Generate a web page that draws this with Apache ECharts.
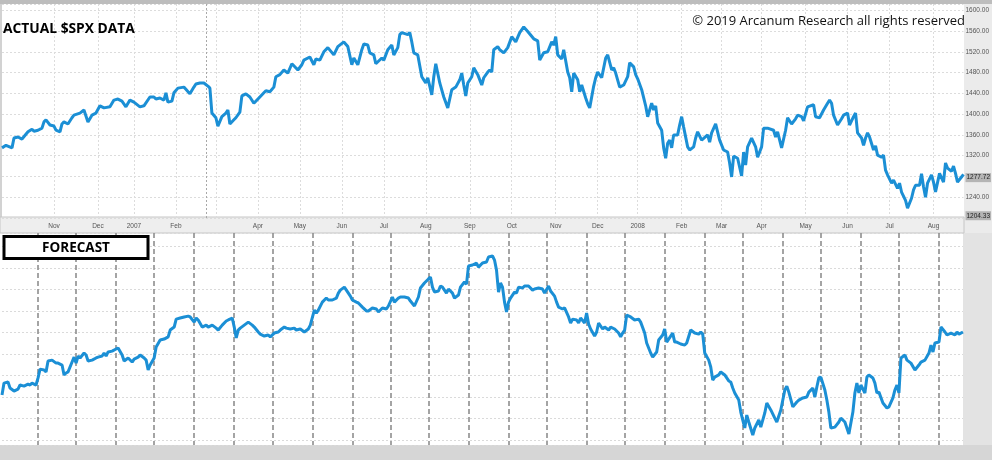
<!DOCTYPE html>
<html><head><meta charset="utf-8">
<script src="https://cdn.jsdelivr.net/npm/echarts@6.0.0/dist/echarts.min.js"></script>
<style>html,body{margin:0;padding:0;background:#d2d2d2}#c{width:992px;height:460px}</style>
</head><body><div id="c"></div>
<script>
// ---- DATA ----
// Actual $SPX: [trading-day index, close]
const actualSpx = [[0,1335],[2,1340],[5,1335],[6,1354],[8,1356],[10,1352],[11,1354],[13,1366],[15,1371],[16,1367],[18,1369],[20,1373],[21,1385],[22,1389],[24,1379],[26,1377],[27,1369],[29,1366],[30,1381],[31,1385],[33,1381],[35,1393],[36,1398],[39,1402],[41,1408],[43,1385],[45,1398],[47,1402],[49,1416],[51,1412],[52,1414],[54,1414],[56,1427],[58,1429],[60,1425],[62,1414],[64,1427],[66,1423],[67,1421],[69,1414],[71,1416],[74,1433],[76,1433],[77,1429],[79,1431],[81,1427],[82,1441],[83,1423],[85,1425],[86,1441],[88,1450],[91,1452],[92,1448],[94,1439],[96,1452],[97,1458],[99,1460],[101,1460],[103,1454],[104,1450],[105,1402],[106,1404],[107,1393],[108,1377],[110,1395],[112,1402],[113,1408],[114,1381],[116,1389],[117,1393],[119,1404],[120,1435],[122,1439],[124,1433],[126,1421],[127,1421],[129,1433],[131,1441],[132,1445],[134,1443],[136,1452],[137,1472],[139,1476],[141,1485],[143,1479],[145,1497],[146,1493],[148,1485],[150,1495],[151,1504],[154,1510],[156,1495],[157,1506],[159,1504],[161,1520],[163,1528],[166,1514],[168,1530],[171,1539],[173,1530],[175,1495],[176,1508],[178,1495],[180,1524],[181,1535],[183,1533],[184,1518],[186,1514],[187,1497],[190,1508],[191,1504],[193,1524],[195,1533],[196,1514],[198,1528],[199,1553],[200,1557],[203,1553],[204,1557],[205,1539],[206,1518],[208,1514],[210,1472],[211,1466],[212,1460],[213,1470],[215,1437],[216,1472],[217,1497],[219,1460],[221,1433],[223,1412],[224,1414],[225,1447],[227,1452],[229,1466],[230,1479],[231,1456],[232,1435],[233,1460],[235,1472],[236,1489],[238,1476],[240,1456],[241,1470],[243,1481],[244,1485],[245,1481],[246,1524],[248,1530],[249,1524],[251,1518],[253,1528],[254,1530],[255,1549],[257,1539],[259,1557],[261,1568],[263,1559],[264,1561],[266,1545],[268,1541],[269,1504],[271,1518],[273,1520],[275,1539],[276,1533],[277,1549],[278,1514],[280,1506],[281,1524],[283,1481],[284,1470],[285,1443],[286,1479],[288,1466],[289,1443],[290,1456],[292,1431],[293,1420],[294,1412],[296,1454],[297,1470],[298,1481],[300,1470],[302,1508],[303,1514],[305,1485],[306,1489],[307,1479],[309,1452],[311,1456],[313,1472],[314,1499],[316,1491],[317,1476],[318,1468],[320,1447],[322,1416],[323,1395],[324,1408],[325,1421],[326,1408],[327,1416],[328,1383],[330,1369],[331,1335],[332,1315],[333,1344],[334,1350],[335,1335],[336,1360],[338,1360],[339,1379],[340,1395],[341,1375],[343,1337],[344,1331],[346,1337],[347,1354],[348,1366],[350,1350],[351,1350],[353,1360],[354,1346],[355,1364],[357,1381],[358,1379],[359,1350],[361,1331],[363,1327],[364,1306],[365,1279],[366,1319],[368,1315],[369,1317],[370,1281],[371,1327],[372,1302],[373,1337],[375,1354],[377,1337],[378,1317],[380,1337],[381,1373],[383,1373],[384,1375],[386,1369],[387,1356],[388,1366],[390,1335],[391,1337],[392,1369],[393,1393],[395,1381],[397,1391],[398,1398],[400,1395],[401,1387],[403,1414],[404,1416],[406,1418],[407,1395],[408,1398],[409,1393],[411,1408],[413,1421],[414,1427],[415,1421],[416,1398],[418,1379],[420,1391],[421,1398],[423,1402],[424,1379],[426,1395],[427,1402],[428,1364],[429,1364],[430,1354],[431,1340],[432,1354],[433,1364],[434,1356],[436,1331],[437,1339],[438,1321],[440,1317],[441,1321],[442,1292],[443,1283],[444,1285],[445,1267],[446,1273],[448,1257],[449,1267],[450,1250],[451,1248],[452,1234],[453,1219],[455,1238],[456,1254],[457,1263],[459,1263],[460,1285],[461,1260],[462,1240],[463,1267],[465,1283],[466,1269],[467,1250],[469,1286],[470,1288],[471,1269],[472,1306],[473,1296],[475,1290],[476,1300],[477,1286],[478,1269],[480,1279],[481,1284]];

// Forecast (unscaled index): [trading-day index, value]
const forecast = [[0,20.9],[1,26.5],[3,27],[4,24.2],[6,22.8],[8,23.7],[9,25.6],[11,25.1],[13,26],[14,25.6],[15,26.5],[17,25.6],[18,28.9],[19,33],[21,32.6],[22,31.7],[23,36.8],[25,37.2],[27,35.8],[28,35.8],[30,34.9],[31,30.3],[32,31.2],[33,31.7],[35,36.3],[36,38.6],[37,35.8],[38,39.1],[39,38.2],[41,40.5],[42,39.6],[43,36.8],[45,37.2],[47,38.2],[48,38.6],[50,39.1],[51,40.5],[52,39.1],[53,41],[55,41.4],[57,42.4],[58,42.8],[60,39.6],[61,36.8],[63,38.2],[65,36.3],[66,37.7],[68,38.6],[69,39.6],[71,38.2],[72,37.2],[73,32.6],[74,34.9],[76,38.2],[77,43.3],[79,46.6],[81,47],[83,48],[84,51.2],[86,52.6],[87,56.3],[89,56.8],[91,57.3],[93,57.7],[94,57.3],[96,54.9],[97,56.8],[98,55.9],[100,52.6],[102,53.5],[103,52.6],[105,53.5],[107,52.1],[108,51.2],[110,53.5],[112,55.4],[113,55.9],[115,56.8],[116,52.6],[117,47.5],[118,51.2],[119,52.1],[121,53.5],[123,54.9],[125,53.5],[126,52.6],[128,50.3],[129,49.3],[131,48.4],[133,48.9],[134,48],[136,49.8],[138,50.3],[139,51.2],[141,52.6],[142,52.1],[144,51.7],[146,52.1],[147,51.2],[149,51.7],[151,50.3],[153,51.7],[154,53.5],[156,60.5],[157,59.1],[158,60.5],[160,64.2],[162,66.1],[163,65.2],[165,65.2],[167,66.1],[168,68.4],[169,69.8],[171,71.2],[172,69.8],[174,67],[175,65.2],[177,64.2],[178,63.8],[180,61.9],[182,60.1],[183,60.1],[185,61.5],[187,61],[188,59.6],[190,61.5],[192,61],[193,62.4],[195,66.6],[196,64.2],[198,66.1],[199,66.6],[201,66.6],[203,66.1],[204,64.7],[206,62.4],[208,66.6],[209,70.8],[211,73.1],[213,75],[214,75.9],[215,71.2],[216,68.9],[218,69.4],[219,71.7],[220,71.2],[222,68.4],[223,70.3],[225,68.4],[226,66.1],[228,67.5],[229,71.2],[231,73.6],[232,72.6],[233,81],[235,81.5],[237,82.4],[238,80.5],[240,82.4],[242,82.9],[243,85.2],[245,85.7],[246,83.8],[247,79.1],[248,68.9],[249,73.1],[250,71.2],[251,64.2],[252,59.6],[253,64.2],[254,66.1],[256,68.9],[257,68.4],[258,71.2],[260,70.8],[261,71.7],[263,71.7],[265,69.8],[266,70.3],[268,70.8],[270,70.3],[271,68.4],[273,71.7],[274,69.4],[276,67],[277,64.2],[278,61.9],[280,61],[281,61.5],[283,57.3],[284,54.5],[285,56.3],[287,55.9],[288,54.5],[289,56.8],[291,54.5],[292,59.1],[293,54],[294,51.7],[296,48.4],[297,50.3],[298,54.5],[300,51.7],[301,52.6],[303,51.2],[304,52.6],[306,51.7],[308,49.8],[309,48],[310,49.8],[311,51.2],[312,58.2],[314,57.3],[316,55.9],[318,56.3],[319,54.9],[321,49.8],[322,45.2],[324,40.5],[325,38.6],[327,41],[328,46.6],[330,48.9],[331,51.7],[332,45.6],[334,48.4],[335,49.8],[336,45.6],[337,45.6],[339,44.7],[341,44.2],[342,45.2],[344,51.2],[346,49.8],[348,49.3],[349,50.3],[350,49.3],[351,40.5],[353,37.2],[354,34],[355,27.9],[356,29.3],[358,30.3],[359,31.7],[361,30.3],[363,27.5],[364,27],[365,24.2],[366,21.9],[368,18.6],[369,13],[370,9.3],[371,5.6],[372,11.6],[373,8.4],[375,2.3],[376,5.6],[378,9.3],[379,6],[381,12.6],[382,17.2],[384,14],[386,10.2],[387,8.4],[389,14],[391,23.3],[392,25.1],[393,22.3],[395,15.4],[397,17.7],[398,18.6],[400,19.6],[402,20],[403,22.3],[405,24.2],[406,20],[407,24.7],[408,28.9],[409,29.3],[411,23.3],[412,18.6],[413,13],[414,5.6],[416,6],[418,8.4],[419,10.2],[421,8.4],[422,5.6],[423,2.8],[425,13],[426,21.9],[427,26.5],[428,21.9],[429,25.6],[431,21.9],[432,29.3],[433,30.3],[435,28.9],[436,26.5],[437,21.9],[438,22.3],[440,17.2],[442,14.9],[443,15.4],[445,19.6],[446,23.3],[447,25.6],[448,21.9],[449,38.2],[451,39.6],[452,37.2],[454,35.8],[456,32.6],[458,34.9],[459,36.3],[461,37.2],[463,40.5],[464,44.2],[465,41],[466,45.2],[468,45.6],[469,52.6],[471,50.3],[472,48.9],[474,49.8],[476,48.9],[477,50.3],[478,49.3],[480,50.3]];

const actualDayCount = 482;
const forecastDayCount = 481;
// Month ticks of the actual chart: [label, trading-day index] (null label = gridline only)
const actualMonthTicks = [['Nov',26],['Dec',48],['2007',66],['Feb',87],[null,107],['Apr',128],['May',149],['Jun',170],['Jul',191],['Aug',212],['Sep',234],['Oct',255],['Nov',277],['Dec',298],['2008',318],['Feb',340],['Mar',360],['Apr',380],['May',402],['Jun',423],['Jul',444],['Aug',466]];
// Month separators of the forecast chart (trading-day index)
const forecastMonthTicks = [18,37,57,76,96,116,135,155,175,194,213,233,253,272,292,311,331,351,370,390,409,429,448,468];
const priceLabels = [1240,1320,1360,1400,1440,1480,1520,1560,1600];
const priceTags = [1277.72, 1204.33];
const cursorDay = 101.5;

// ---- BUILD ----
const topCats = new Array(actualDayCount).fill('');
const topTickSet = new Set();
actualMonthTicks.forEach(([l, i]) => { topCats[i] = l || ''; topTickSet.add(i); });
const botCats = new Array(forecastDayCount).fill('');
const botTickSet = new Set(forecastMonthTicks);
const labelSet = new Set(priceLabels);

const blue = '#1b8fd5';
const narrow = '"Liberation Sans Narrow", "Liberation Sans", sans-serif';
const chart = echarts.init(document.getElementById('c'), null, {renderer: 'canvas'});
chart.setOption({
  animation: false,
  backgroundColor: '#d2d2d2',
  grid: [
    {left: 2, right: 28, top: 4, bottom: 242},
    {left: 2, right: 29, top: 233, bottom: 15}
  ],
  xAxis: [
    {type: 'category', gridIndex: 0, data: topCats, boundaryGap: false,
     axisLine: {show: false}, axisTick: {show: false},
     axisLabel: {interval: (i) => topTickSet.has(i), margin: 5, fontSize: 6.5,
       fontFamily: narrow, color: '#555'},
     splitLine: {show: true, interval: (i) => topTickSet.has(i),
       lineStyle: {color: '#dcdcdc', type: [2, 2], width: 1}}},
    {type: 'category', gridIndex: 1, data: botCats, boundaryGap: false,
     axisLine: {show: false}, axisTick: {show: false}, axisLabel: {show: false},
     splitLine: {show: true, interval: (i) => botTickSet.has(i),
       lineStyle: {color: '#8e8e8e', type: [5, 3], width: 1.6}}}
  ],
  yAxis: [
    {type: 'value', gridIndex: 0, position: 'right', min: 1200, max: 1612, interval: 40,
     axisLine: {show: false}, axisTick: {show: false},
     axisLabel: {margin: 2, fontSize: 6.5, color: '#555', fontFamily: narrow,
       formatter: (v) => labelSet.has(v) ? v.toFixed(2) : ''},
     splitLine: {lineStyle: {color: '#dcdcdc', type: [2, 2], width: 1}}},
    {type: 'value', gridIndex: 1, min: -2.33, max: 96.4, splitNumber: 10,
     axisLine: {show: false}, axisTick: {show: false}, axisLabel: {show: false},
     splitLine: {lineStyle: {color: '#dadada', type: [2, 2], width: 1}}}
  ],
  series: [
    {type: 'line', xAxisIndex: 0, yAxisIndex: 0, data: actualSpx, showSymbol: false,
     lineStyle: {color: blue, width: 3}, itemStyle: {color: blue}, z: 5,
     markLine: {silent: true, symbol: 'none', animation: false,
       data: [
         ...priceTags.map(v => ({yAxis: v, lineStyle: {color: 'rgba(0,0,0,0)', width: 0},
           label: {show: true, position: 'end', distance: 2, formatter: v.toFixed(2),
             backgroundColor: '#b4b4b4', color: '#222', fontSize: 6.5, padding: [1, 1],
             fontFamily: narrow}})),
         {xAxis: cursorDay, lineStyle: {color: '#a8a8a8', type: [2, 2], width: 1}, label: {show: false}}
       ]}},
    {type: 'line', xAxisIndex: 1, yAxisIndex: 1, data: forecast, showSymbol: false,
     lineStyle: {color: blue, width: 3}, itemStyle: {color: blue}, z: 5}
  ],
  graphic: [
    {type: 'rect', z: -100, shape: {x: 0, y: 0, width: 992, height: 4}, style: {fill: '#bdbdbd'}},
    {type: 'rect', z: -100, shape: {x: 2, y: 4, width: 962, height: 213}, style: {fill: '#ffffff'}},
    {type: 'rect', z: -100, shape: {x: 964, y: 4, width: 28, height: 229}, style: {fill: '#ebebeb'}},
    {type: 'rect', z: -99, shape: {x: 0, y: 217, width: 964, height: 16}, style: {fill: '#eeeeee', stroke: '#c6c6c6', lineWidth: 1}},
    {type: 'rect', z: -100, shape: {x: 0, y: 233, width: 963, height: 212}, style: {fill: '#ffffff'}},
    {type: 'rect', z: -100, shape: {x: 963, y: 233, width: 29, height: 212}, style: {fill: '#e3e3e3'}},
    {type: 'rect', z: -100, shape: {x: 0, y: 445, width: 992, height: 15}, style: {fill: '#d6d6d6'}},
    {type: 'text', z: 50, x: 3, y: 29, style: {text: 'ACTUAL $SPX DATA', fill: '#000',
      font: 'bold 13.8px "Open Sans", sans-serif', textVerticalAlign: 'middle'}},
    {type: 'text', z: 50, x: 965, y: 21, style: {text: '© 2019 Arcanum Research all rights reserved', fill: '#111',
      font: '13px "Open Sans", sans-serif', textAlign: 'right', textVerticalAlign: 'middle'}},
    {type: 'rect', z: 50, shape: {x: 4, y: 236.5, width: 144, height: 22}, style: {fill: '#ffffff', stroke: '#000', lineWidth: 3}},
    {type: 'text', z: 51, x: 76, y: 248, style: {text: 'FORECAST', fill: '#000',
      font: 'bold 13.5px "Open Sans", sans-serif', textAlign: 'center', textVerticalAlign: 'middle'}}
  ]
});
</script>
</body></html>
